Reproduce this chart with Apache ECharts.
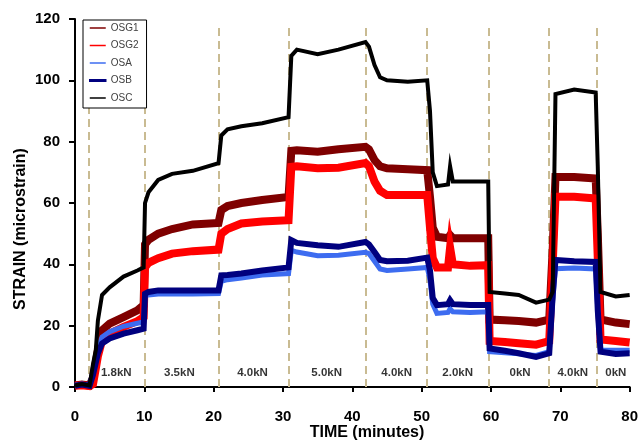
<!DOCTYPE html>
<html>
<head>
<meta charset="utf-8">
<script src="https://cdn.jsdelivr.net/npm/echarts/dist/echarts.min.js"></script>
<style>
  html, body { margin: 0; padding: 0; background: #fff; }
  #chart { width: 641px; height: 447px; }
</style>
</head>
<body>
<div id="chart"></div>
<script>
// Elapsed time (minutes) at which each strain reading is taken
const minutes = [0, 1, 2.1, 2.6, 3.0, 3.3, 3.9, 5, 7, 9, 9.9, 10.1, 10.6, 12, 14, 17, 20.7,
  21.1, 22, 24, 27, 30.8, 31.2, 32, 35, 38, 41.9, 42.4, 43.2, 44, 45, 48, 50.8, 51.2, 51.6,
  52.2, 53.8, 54.1, 54.5, 57, 59.6, 59.8, 62, 64, 66.5, 68.4, 68.9, 69.3, 72, 75.1, 75.4,
  75.8, 78, 80];

// Strain readings (microstrain) for each gauge
const osg1 = [0.5, 0.8, 0.5, 3, 8, 12, 18.5, 20.7, 22.8, 25, 26.7, 46.5, 48, 50, 51.5, 53, 53.5,
  57.7, 59, 60, 61, 62, 77, 77.2, 76.7, 77.5, 78.3, 77.5, 74, 72, 71.3, 71, 70.7, 62, 52,
  49, 48.5, 49.5, 48.5, 48.5, 48.5, 22, 21.8, 21.5, 21, 22, 45, 68.5, 68.5, 68, 50,
  22, 21, 20.5];
const osg2 = [0.5, 0.6, 0.3, 1, 6, 10, 15.2, 17.4, 19.6, 21.5, 22.8, 39, 40.5, 42, 43.5, 44.3, 44.8,
  50, 51.5, 53.3, 54, 54.4, 71.8, 72, 71.3, 71.5, 73, 72, 67, 64, 62.6, 62.6, 62.6, 52, 42,
  39, 39, 45.5, 40, 39.5, 39.7, 15, 14.7, 14.3, 13.8, 15, 40, 62, 62, 61.5, 42,
  15.5, 15, 14.5];
const osa = [0.6, 1.0, 0.6, 5, 9, 12.5, 16.3, 18, 19.8, 20.8, 21.2, 30, 30, 30.3, 30.3, 30.3, 30.5,
  34.5, 35, 35.5, 36.5, 37, 44.6, 44, 42.8, 43, 43.9, 43.5, 41, 38.5, 38, 38.5, 39, 35, 27,
  24, 24.3, 25.5, 24.5, 24.3, 24.5, 11.5, 11.2, 10.8, 10.3, 11.5, 28, 38.6, 38.8, 38.5, 25,
  12, 12, 12];
const osb = [0.4, 0.8, 0.4, 4, 8, 11, 14.2, 15.8, 17.4, 18.5, 19, 30.4, 31, 31.5, 31.5, 31.5, 31.5,
  36.4, 36.5, 37, 38, 39, 47.9, 47, 46.2, 45.7, 47.3, 46.5, 44, 41.4, 41, 41.2, 42.2, 38, 29,
  26.7, 27, 28.3, 27, 26.7, 26.7, 12.6, 11.8, 11, 9.8, 11, 30, 41.4, 41, 40.8, 25,
  11.5, 10.8, 11];
const osc = [0.5, 1.0, 0.5, 7.5, 12, 21.6, 30, 32.5, 36, 38, 39, 60, 63.5, 67.5, 69.5, 70.5, 73,
  82, 84, 85, 86, 88, 108, 110, 108.5, 110, 112.5, 111, 105, 101, 100, 99.5, 100, 90, 70,
  65.5, 66, 72, 67, 67, 67, 31, 30.5, 30, 27.5, 28.5, 31, 95.5, 97, 96, 72,
  31, 29.5, 30];

// Load steps: boundaries between stages, and the label of each stage
const stageBounds = [2.05, 10.05, 20.8, 30.9, 41.9, 50.7, 59.7, 68.4, 75.2];
const stageCentres = [5.95, 15.05, 25.6, 36.3, 46.4, 55.2, 64.2, 71.8, 78.0];
const stageLoads = ['1.8kN', '3.5kN', '4.0kN', '5.0kN', '4.0kN', '2.0kN', '0kN', '4.0kN', '0kN'];
const stageLabelLevel = 4.6;

const xTicks = { min: 0, max: 80, interval: 10 };
const yTicks = { min: 0, max: 120, interval: 20 };

// Trace colours, band thickness, and the extra stroke on each legend key
const gauges = [
  { name: 'OSG1', values: osg1, color: '#7f0000', width: 8, key: 0 },
  { name: 'OSG2', values: osg2, color: '#ff0000', width: 8, key: 0 },
  { name: 'OSA',  values: osa,  color: '#3d6cf0', width: 5, key: 0 },
  { name: 'OSB',  values: osb,  color: '#00007f', width: 6, key: 1.5 },
  { name: 'OSC',  values: osc,  color: '#000000', width: 4, key: 0 }
];

const FONT = '"Liberation Sans", Arial, sans-serif';

const series = gauges.map(g => ({
  name: g.name,
  type: 'line',
  data: minutes.map((t, i) => [t, g.values[i]]),
  showSymbol: false,
  symbol: 'none',
  color: g.color,
  lineStyle: { color: g.color, width: g.width, join: 'miter' },
  z: 3
}));

// Dashed stage boundaries
series.push({
  name: 'stages',
  type: 'line',
  data: [],
  silent: true,
  z: 1,
  markLine: {
    silent: true,
    symbol: 'none',
    z: 1,
    animation: false,
    label: { show: false },
    lineStyle: { color: '#c9bb92', width: 2, type: [8, 5] },
    data: stageBounds.map(x => [{ coord: [x, 0] }, { coord: [x, 118.6] }])
  }
});

// Stage load labels
series.push({
  name: 'loads',
  type: 'scatter',
  symbolSize: 0,
  silent: true,
  z: 4,
  data: stageCentres.map((x, i) => ({ value: [x, stageLabelLevel], name: stageLoads[i] })),
  label: {
    show: true,
    position: 'inside',
    formatter: p => p.name,
    fontFamily: FONT,
    fontWeight: 'bold',
    fontSize: 11.5,
    color: '#000'
  }
});

const chart = echarts.init(document.getElementById('chart'), null, { renderer: 'canvas' });
chart.setOption({
  animation: false,
  backgroundColor: '#fff',
  grid: { left: 75, right: 8, top: 19, bottom: 60, containLabel: false },
  legend: {
    data: gauges.map(g => ({
      name: g.name,
      icon: 'rect',
      itemStyle: { color: g.color, borderColor: g.color, borderWidth: g.key }
    })),
    orient: 'vertical',
    left: 83,
    top: 20,
    itemWidth: 16,
    itemHeight: 1.5,
    itemGap: 5.5,
    padding: [2, 8, 4, 6],
    backgroundColor: '#fff',
    borderColor: '#000',
    borderWidth: 1,
    selectedMode: false,
    textStyle: { fontFamily: FONT, fontSize: 10, color: '#404040', lineHeight: 12 }
  },
  xAxis: {
    type: 'value',
    min: xTicks.min, max: xTicks.max, interval: xTicks.interval,
    splitLine: { show: false },
    axisLine: { show: true, onZero: false, lineStyle: { color: '#000', width: 2 } },
    axisTick: { show: true, inside: false, length: 5, lineStyle: { color: '#000', width: 2 } },
    axisLabel: { margin: 22, fontFamily: FONT, fontWeight: 'bold', fontSize: 15, color: '#000' }
  },
  yAxis: {
    type: 'value',
    min: yTicks.min, max: yTicks.max, interval: yTicks.interval,
    splitLine: { show: false },
    axisLine: { show: true, lineStyle: { color: '#000', width: 2 } },
    axisTick: { show: true, inside: false, length: 6, lineStyle: { color: '#000', width: 2 } },
    axisLabel: { margin: 15, fontFamily: FONT, fontWeight: 'bold', fontSize: 15, color: '#000' }
  },
  graphic: [
    {
      type: 'text', x: 367, y: 433,
      style: { text: 'TIME (minutes)', font: 'bold 16px ' + FONT, fill: '#000',
               textAlign: 'center', textVerticalAlign: 'middle' }
    },
    {
      type: 'text', x: 21, y: 229, rotation: Math.PI / 2,
      style: { text: 'STRAIN (microstrain)', font: 'bold 16px ' + FONT, fill: '#000',
               textAlign: 'center', textVerticalAlign: 'middle' }
    }
  ],
  series: series
});
</script>
</body>
</html>
